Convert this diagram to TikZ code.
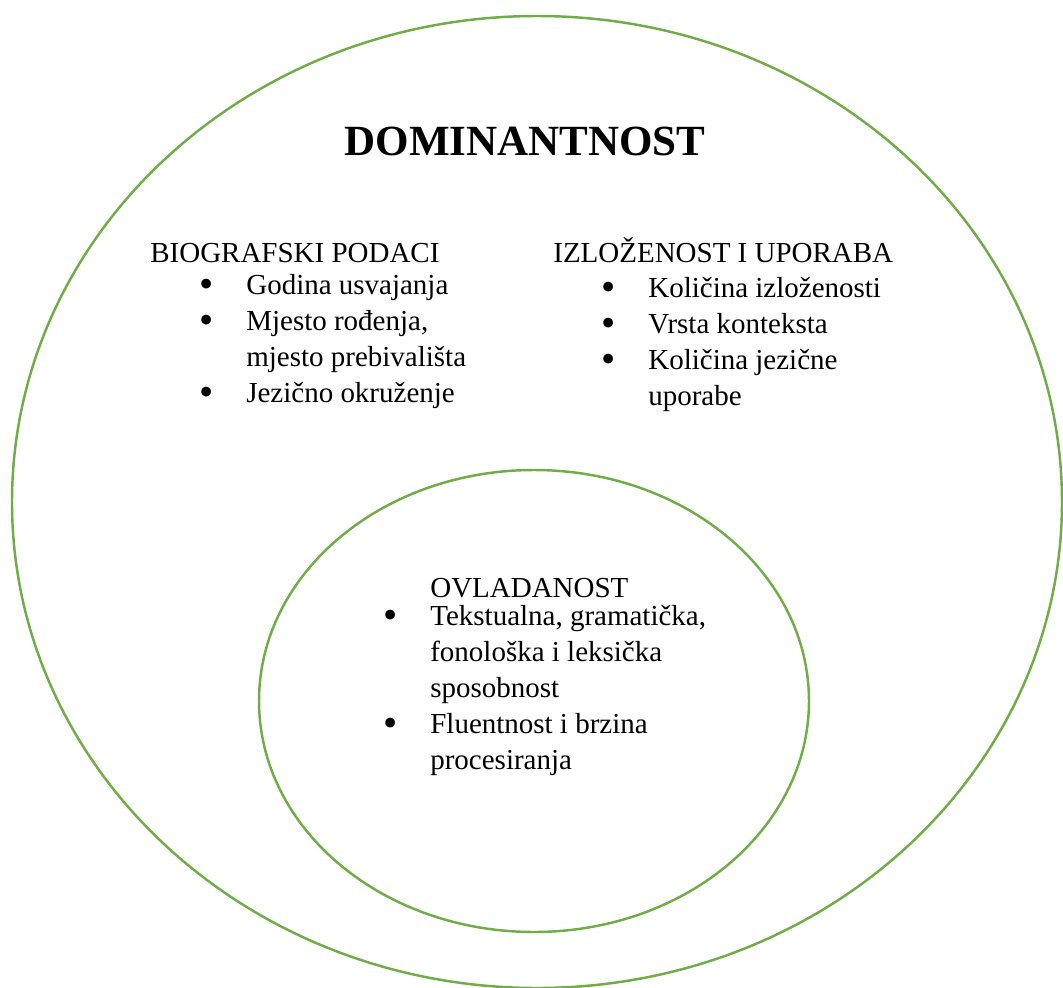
\documentclass[tikz,border=0pt]{standalone}
\usepackage{fontspec}
\setmainfont{Liberation Serif}
\usetikzlibrary{positioning}
\definecolor{RingGreen}{RGB}{112, 173, 71}
\newcommand{\itm}{\makebox[0.94cm][l]{\raisebox{-0.07cm}{\scalebox{1.4}{\textbullet}}}}
\newcommand{\gap}{\hspace*{0.94cm}}

\begin{document}
\begin{tikzpicture}[
    x=0.02cm, y=-0.02cm,
    ring/.style={draw=RingGreen, line width=1.4pt},
    head/.style={inner sep=0pt, anchor=base west, font=\fontsize{16.5}{20.5}\selectfont},
    items/.style={inner sep=0pt, anchor=base west, font=\fontsize{16.5}{20.5}\selectfont},
    title/.style={inner sep=0pt, anchor=base, font=\fontsize{24.5}{29}\selectfont\bfseries}
  ]
  \useasboundingbox (0,0) rectangle (1063,988);

  % Rings
  \draw[ring] (537,502) ellipse [x radius=525, y radius=486];
  \draw[ring] (534,701) ellipse [x radius=275, y radius=231];

  % Title
  \node[title] (dom) at (525,155) {DOMINANTNOST};

  % Left block
  \node[head] (biohead) at (150,262) {BIOGRAFSKI PODACI};
  \node[items] (bioitems) at (199,294) {\begin{tabular}[t]{@{}l@{}}
      \itm Godina usvajanja\\
      \itm Mjesto rođenja,\\
      \gap mjesto prebivališta\\
      \itm Jezično okruženje
    \end{tabular}};

  % Right block
  \node[head] (izlhead) at (553,262) {IZLOŽENOST I UPORABA};
  \node[items] (izlitems) at (601,297) {\begin{tabular}[t]{@{}l@{}}
      \itm Količina izloženosti\\
      \itm Vrsta konteksta\\
      \itm Količina jezične\\
      \gap uporabe
    \end{tabular}};

  % Inner block
  \node[head] (ovlhead) at (430,597) {OVLADANOST};
  \node[items] (ovlitems) at (383,625) {\begin{tabular}[t]{@{}l@{}}
      \itm Tekstualna, gramatička,\\
      \gap fonološka i leksička\\
      \gap sposobnost\\
      \itm Fluentnost i brzina\\
      \gap procesiranja
    \end{tabular}};
\end{tikzpicture}
\end{document}
